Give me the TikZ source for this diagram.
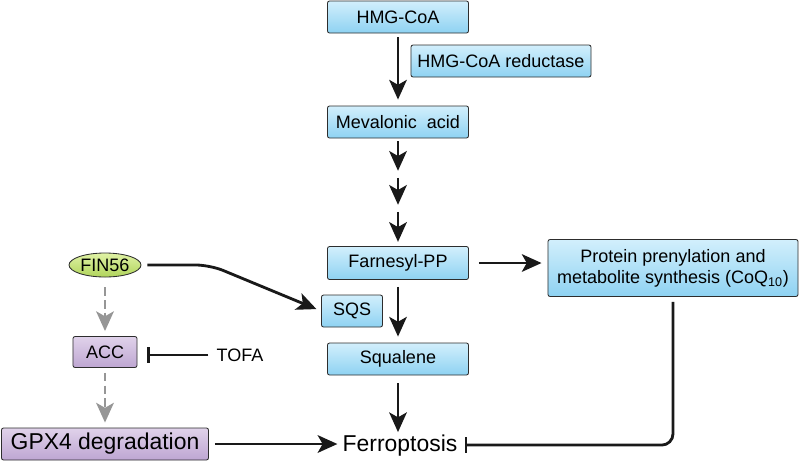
\documentclass[tikz,border=0pt]{standalone}
\usepackage{fontspec}
\setmainfont{Liberation Sans}
\usepackage{xcolor}
\usepackage{tikz}
\usetikzlibrary{positioning,shapes,arrows.meta}

\definecolor{boxtop}{RGB}{210,239,252}
\definecolor{boxbot}{RGB}{142,210,242}
\definecolor{lilactop}{RGB}{224,210,234}
\definecolor{lilacbot}{RGB}{190,166,210}
\definecolor{limetop}{RGB}{224,242,165}
\definecolor{limebot}{RGB}{176,212,92}
\definecolor{edge}{RGB}{45,45,45}
\definecolor{dashgray}{RGB}{150,150,150}

\begin{document}
\begin{tikzpicture}[x=0.025cm, y=-0.025cm, >={Stealth[length=14pt,width=12.5pt,inset=3.5pt]},
    enzyme/.style={draw=edge, line width=0.6pt, rectangle, rounded corners=1.5pt, top color=boxtop, bottom color=boxbot,
        inner sep=2pt, font=\fontsize{12.8}{15}\selectfont},
    lilac/.style={draw=edge, line width=0.6pt, rectangle, rounded corners=1.5pt, top color=lilactop, bottom color=lilacbot,
        inner sep=2pt},
    flow/.style={->, line width=2pt, draw=black!90},
    dflow/.style={->, line width=2pt, draw=dashgray, dash pattern=on 6pt off 3pt},
    inhib/.style={-{Bar[width=11pt]}, line width=2pt, draw=black!90}]
    \useasboundingbox (0,0) rectangle (800,462);

    % mevalonate pathway
    \node[enzyme, minimum width=3.525cm, minimum height=0.8cm] (hmg) at (398,17) {HMG-CoA};
    \node[enzyme, minimum width=4.5cm, minimum height=0.8cm] (red) at (501,61) {HMG-CoA reductase};
    \node[enzyme, minimum width=3.525cm, minimum height=0.8cm] (mev) at (398,122) {Mevalonic\ \ acid};
    \node[enzyme, minimum width=3.525cm, minimum height=0.825cm] (farn) at (398,263) {Farnesyl-PP};
    \node[enzyme, minimum width=1.525cm, minimum height=0.8cm] (sqs) at (352,311) {SQS};
    \node[enzyme, minimum width=3.525cm, minimum height=0.8cm] (squal) at (398,359) {Squalene};
    \node[enzyme, minimum width=6.25cm, minimum height=1.425cm, align=center] (prot) at (673,268)
        {Protein prenylation and\\metabolite synthesis (CoQ\textsubscript{10})};
    \node[inner sep=0pt, anchor=base, font=\fontsize{16.3}{19}\selectfont] (ferro) at (400,451) {Ferroptosis};

    % FIN56 branch
    \node[draw=edge, line width=0.6pt, ellipse, top color=limetop, bottom color=limebot, inner sep=0pt,
        minimum width=1.8cm, minimum height=0.6cm, font=\fontsize{12.8}{15}\selectfont] (fin) at (105,265) {FIN56};
    \node[lilac, minimum width=1.6cm, minimum height=0.775cm, font=\fontsize{12.8}{15}\selectfont] (acc) at (105,352) {ACC};
    \node[inner sep=0pt, font=\fontsize{12.8}{15}\selectfont] (tofa) at (240,355) {TOFA};
    \node[lilac, minimum width=5.175cm, minimum height=0.8cm, font=\fontsize{16.3}{19}\selectfont] (gpx) at (105,444) {GPX4 degradation};

    \coordinate (m1) at (398,175);
    \coordinate (m2) at (398,209);

    \draw[flow, shorten <=0.1cm, shorten >=0.15cm] (hmg) -- (mev);
    \foreach \a/\b in {mev/m1, m1/m2, m2/farn}
        \draw[flow, shorten <=2pt, shorten >=3pt] (\a) -- (\b);
    \draw[flow, shorten <=0.175cm, shorten >=0.15cm] (farn) -- (squal);
    \draw[flow, shorten <=0.2cm, shorten >=0.05cm] (squal.south) -- (squal.south |- ferro.north);
    \draw[flow, shorten <=0.25cm, shorten >=0.15cm] (farn.east) -- (farn.east -| prot.west);
    \draw[flow, shorten <=0.15cm, shorten >=0.125cm, rounded corners=10pt] (fin.east) -- (210,265) -- (sqs.west);
    \draw[flow, shorten <=0.15cm, shorten >=0.125cm] (gpx.east) -- (gpx.east -| ferro.west);
    \draw[inhib, rounded corners=8pt, shorten <=0.125cm, shorten >=0.175cm] (prot.south) -- (prot.south |- ferro.east) -- (ferro.east);

    \draw[dflow, shorten <=0.25cm, shorten >=0.125cm] (fin) -- (acc);
    \draw[dflow, shorten <=0.125cm, shorten >=0.125cm] (acc) -- (gpx);
    \draw[inhib, shorten <=0.2cm, shorten >=0.25cm] (tofa.west) -- (tofa.west -| acc.east);
\end{tikzpicture}
\end{document}
